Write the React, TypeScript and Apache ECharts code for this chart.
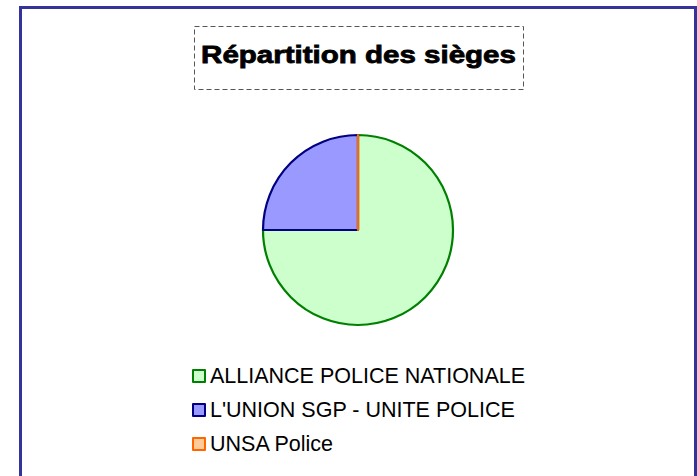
import React, { useEffect, useRef } from "react";
import * as echarts from "echarts";

const titleText = "Répartition des sièges";
const categories = ["ALLIANCE POLICE NATIONALE", "L'UNION SGP - UNITE POLICE", "UNSA Police"];
const seats = [3, 1, 0];
const fills = ["#CCFFCC", "#9999FF", "#FFCC99"];
const borders = ["#008000", "#000080", "#FF6600"];

export default function App() {
  const ref = useRef<HTMLDivElement>(null);
  useEffect(() => {
    const chart = echarts.init(ref.current!, null, { renderer: "svg" });
    chart.setOption({
      animation: false,
      backgroundColor: "#ffffff",
      graphic: [
        {
          type: "rect",
          shape: { x: 20.5, y: 7.5, width: 675, height: 480 },
          style: { fill: "none", stroke: "#333399", lineWidth: 3 },
          silent: true,
        },
        {
          type: "rect",
          shape: { x: 194.5, y: 26.5, width: 329, height: 63 },
          style: { fill: "none", stroke: "#555555", lineWidth: 1, lineDash: [5, 3] },
          silent: true,
        },
        {
          type: "text",
          x: 358.5,
          y: 55,
          scaleX: 1.23,
          scaleY: 1,
          silent: true,
          style: {
            text: titleText,
            x: 0,
            y: 0,
            align: "center",
            verticalAlign: "middle",
            fontFamily: "Liberation Sans",
            fontWeight: "bold",
            fontSize: 24,
            fill: "#000",
            stroke: "#000",
            lineWidth: 0.8,
          },
        },
      ],
      legend: {
        orient: "vertical",
        left: 192,
        top: 365,
        padding: 0,
        itemWidth: 12,
        itemHeight: 12,
        itemGap: 12,
        icon: "rect",
        itemStyle: { borderWidth: 2 },
        textStyle: { fontFamily: "Liberation Sans", fontSize: 21.5, color: "#000" },
        data: categories,
        selectedMode: false,
      },
      series: [
        {
          type: "pie",
          center: [358, 230],
          radius: 95,
          startAngle: 90,
          clockwise: true,
          label: { show: false },
          labelLine: { show: false },
          emphasis: { disabled: true },
          data: categories.map((c, i) => ({
            name: c,
            value: seats[i],
            itemStyle: { color: fills[i], borderColor: borders[i], borderWidth: 2.2 },
          })),
        },
      ],
    });
    return () => chart.dispose();
  }, []);
  return <div ref={ref} style={{ position: "fixed", left: 0, top: 0, width: 697, height: 476 }} />;
}
